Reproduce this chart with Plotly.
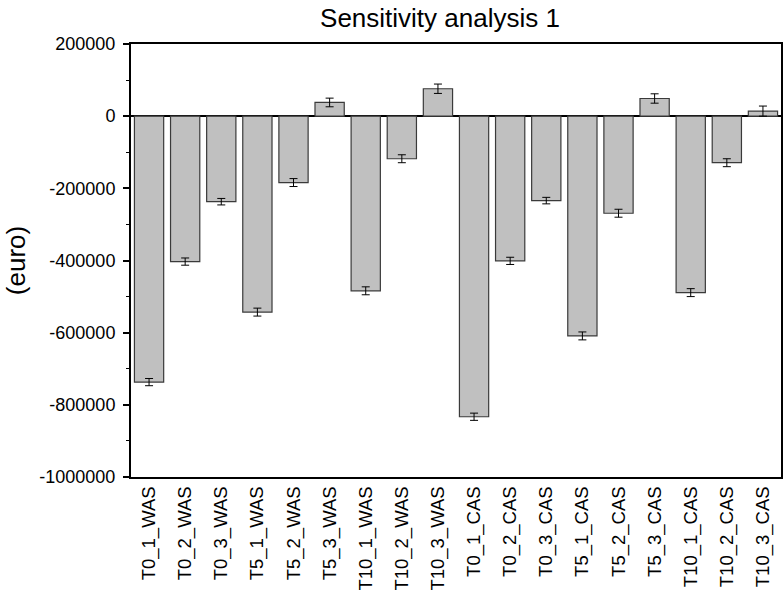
import plotly.graph_objects as go

categories = [
    "T0_1_WAS", "T0_2_WAS", "T0_3_WAS", "T5_1_WAS", "T5_2_WAS", "T5_3_WAS",
    "T10_1_WAS", "T10_2_WAS", "T10_3_WAS", "T0_1_CAS", "T0_2_CAS", "T0_3_CAS",
    "T5_1_CAS", "T5_2_CAS", "T5_3_CAS", "T10_1_CAS", "T10_2_CAS", "T10_3_CAS",
]
values = [
    -737000, -403000, -237000, -543000, -184000, 38000,
    -484000, -118000, 76000, -833000, -401000, -234000,
    -609000, -269000, 49000, -489000, -129000, 14000,
]
errors = [
    10000, 10000, 9000, 11000, 11000, 12000,
    11000, 11000, 13000, 10000, 10000, 9000,
    11000, 11000, 13000, 11000, 11000, 14000,
]
y_ticks = [200000, 0, -200000, -400000, -600000, -800000, -1000000]

font_family = "Liberation Sans, Arial, sans-serif"

fig = go.Figure(
    go.Bar(
        x=categories,
        y=values,
        marker=dict(color="#c0c0c0", line=dict(color="#3a3a3a", width=1.2)),
        error_y=dict(type="data", array=errors, color="black", thickness=1, width=4),
    )
)

fig.update_layout(
    width=784,
    height=594,
    margin=dict(l=131, r=3, t=44, b=117),
    paper_bgcolor="white",
    plot_bgcolor="white",
    bargap=0.19,
    showlegend=False,
    font=dict(family=font_family, color="black", size=18),
    title=dict(
        text="Sensitivity analysis 1",
        x=440 / 784, xanchor="center",
        y=1 - 18 / 594, yanchor="middle",
        font=dict(size=26, family=font_family, color="black"),
    ),
)

fig.update_xaxes(
    type="category",
    tickangle=-90,
    tickfont=dict(size=18.5, color="black"),
    automargin=False,
    showline=True, linecolor="black", linewidth=2, mirror=True,
    ticks="", showgrid=False,
)

fig.update_yaxes(
    range=[-1000000, 200000],
    tickvals=y_ticks,
    ticktext=[str(v) for v in y_ticks],
    tickfont=dict(size=18, color="black"),
    automargin=False,
    ticks="outside", ticklen=6, tickwidth=1.5, tickcolor="black",
    ticklabelstandoff=4,
    minor=dict(dtick=100000, ticks="outside", ticklen=3, tickwidth=1.2, tickcolor="black", showgrid=False),
    showline=True, linecolor="black", linewidth=2, mirror=True,
    showgrid=False,
    zeroline=True, zerolinecolor="black", zerolinewidth=1.5,
    title=dict(text="(euro)", font=dict(size=26, color="black"), standoff=6),
)

fig.write_html("out.html")
